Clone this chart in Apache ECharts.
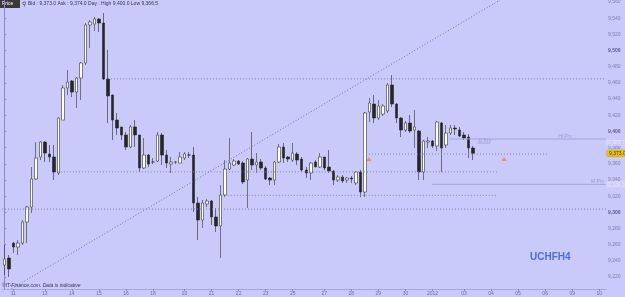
<!DOCTYPE html>
<html><head><meta charset="utf-8">
<script src="https://cdn.jsdelivr.net/npm/echarts@6/dist/echarts.min.js"></script>
<style>html,body{margin:0;padding:0;background:#cacafa}#c{width:625px;height:297px}</style>
</head><body><div id="c"></div>
<script>
const slotCount = 134;
const dayLabels = ['11','13','14','15','16','18','20','21','22','23','25','27','28','29','30','2012','03','04','05','06','09','10'];
const dayLabelSlots = [2,9,15,21,27,33,40,46,52,58,64,71,77,83,89,95,102,108,114,120,126,132];
const priceTicks = [9220,9240,9260,9280,9300,9320,9340,9360,9380,9400,9420,9440,9460,9480,9500,9520,9540,9560];

const opens = [9234.8,9243.5,9262.0,9257.1,9262.0,9288.0,9306.5,9341.2,9368.4,9386.9,9372.1,9368.4,9348.6,9414.1,9453.7,9462.3,9448.7,9466.0,9484.6,9531.6,9532.8,9539.0,9534.0,9464.8,9445.0,9414.1,9405.5,9395.6,9380.7,9405.5,9395.6,9354.8,9370.8,9362.2,9363.4,9395.6,9370.8,9359.7,9362.2,9360.9,9367.1,9370.8,9370.8,9311.5,9290.5,9310.3,9314.0,9294.2,9283.1,9321.4,9353.5,9358.5,9363.4,9360.9,9339.9,9365.9,9358.5,9362.2,9354.8,9342.4,9339.9,9362.2,9380.7,9368.4,9364.6,9372.1,9365.9,9352.3,9348.6,9362.2,9356.0,9368.4,9356.0,9351.0,9339.9,9343.6,9339.9,9342.4,9336.2,9349.8,9325.1,9424.0,9433.9,9416.6,9421.5,9425.2,9457.4,9433.9,9416.6,9401.7,9410.4,9401.7,9400.5,9349.8,9386.9,9388.2,9382.0,9410.4,9383.2,9398.0,9404.2,9401.7,9395.6,9393.1,9379.5];
const closes = [9242.2,9229.9,9257.1,9262.0,9288.0,9306.5,9341.2,9367.1,9386.9,9373.3,9368.4,9349.8,9416.6,9453.7,9461.1,9448.7,9466.0,9484.6,9531.6,9535.3,9539.0,9534.0,9464.8,9443.8,9414.1,9404.2,9395.6,9380.7,9405.5,9395.6,9354.8,9370.8,9359.7,9362.2,9395.6,9370.8,9360.9,9362.2,9362.2,9368.4,9372.1,9370.8,9311.5,9290.5,9311.5,9314.0,9294.2,9283.1,9321.4,9353.5,9360.9,9363.4,9359.7,9337.5,9365.9,9358.5,9362.2,9354.8,9341.2,9339.9,9362.2,9380.7,9367.1,9365.9,9373.3,9364.6,9352.3,9348.6,9360.9,9356.0,9368.4,9354.8,9351.0,9339.9,9343.6,9338.7,9342.4,9341.2,9349.8,9325.1,9422.8,9435.1,9416.6,9431.4,9431.4,9457.4,9433.9,9416.6,9401.7,9410.4,9400.5,9405.5,9349.8,9388.2,9388.2,9382.0,9411.6,9379.5,9398.0,9404.2,9403.0,9394.3,9391.9,9379.5,9373.0];
const lows = [9222.5,9220.0,9249.7,9247.2,9259.6,9262.0,9299.1,9339.9,9364.6,9362.2,9362.2,9339.9,9346.1,9414.1,9445.0,9442.5,9428.9,9438.8,9482.1,9503.1,9524.1,9522.9,9463.6,9410.4,9389.4,9395.6,9389.4,9377.0,9379.5,9380.7,9349.8,9353.5,9356.0,9359.7,9362.2,9358.5,9354.8,9348.6,9359.7,9360.9,9364.6,9367.1,9300.4,9265.8,9280.6,9306.5,9284.3,9275.6,9243.5,9318.9,9352.3,9357.2,9358.5,9335.0,9305.3,9352.3,9348.6,9352.3,9339.9,9333.7,9333.7,9360.9,9360.9,9362.2,9362.2,9358.5,9349.8,9342.4,9339.9,9356.0,9354.8,9352.3,9348.6,9333.7,9337.5,9336.2,9336.2,9336.2,9333.7,9318.9,9318.9,9411.6,9410.4,9414.1,9419.1,9422.8,9430.2,9410.4,9393.1,9399.3,9398.0,9379.5,9339.9,9339.9,9379.5,9379.5,9375.8,9349.8,9379.5,9395.6,9395.6,9393.1,9389.4,9367.1,9364.6];
const highs = [9259.6,9247.2,9263.3,9265.8,9290.5,9308.0,9356.0,9386.9,9388.0,9388.0,9383.2,9383.2,9417.5,9457.4,9475.9,9463.6,9467.3,9485.8,9534.0,9537.7,9541.5,9540.2,9546.4,9500.7,9445.5,9422.8,9405.5,9399.3,9407.9,9414.1,9395.6,9391.9,9372.1,9367.1,9399.3,9398.0,9377.0,9368.4,9363.4,9374.5,9374.5,9374.5,9380.7,9318.9,9315.2,9316.4,9315.2,9305.3,9333.7,9364.6,9391.9,9365.9,9364.6,9363.4,9367.1,9399.3,9373.3,9365.9,9357.2,9343.6,9363.4,9384.4,9385.7,9369.6,9385.7,9374.5,9368.4,9356.0,9362.2,9364.6,9373.3,9368.4,9377.0,9352.3,9346.1,9346.1,9343.6,9344.9,9351.0,9352.3,9424.0,9441.3,9445.0,9438.8,9433.9,9459.9,9469.7,9435.1,9417.8,9412.9,9420.3,9426.5,9401.7,9389.4,9393.1,9389.4,9412.9,9411.6,9407.9,9407.9,9407.9,9405.5,9399.3,9396.8,9382.0];

// dotted reference levels: price, first slot, last slot
const dotPrices = [9465, 9350, 9304, 9372, 9321];
const dotFrom   = [23.0, 11.9, -0.5, 79.6, 49.6];
const dotTo     = [133.5, 109.5, 133.5, 120.6, 109.5];
// solid "previous" levels
const prvNames  = ['Hi Prv', 'D Prv', 'M Prv'];
const prvPrices = [9390.6, 9385.7, 9334.6];
const prvFrom   = [98.9, 105.0, 94.9];
const prvTo     = [133.5, 107.8, 133.5];
const prvLabelSlots = [124.4, 106.6, 131.6];
// trend line end points [slot, price]
const trendLine = [[1.6, 9205.5], [110.0, 9562.5]];
// alert markers [slot, price]
const alerts = [[80.9, 9366], [110.9, 9366]];
const lastPrice = 9373.0;
const yMin = 9205.2, yMax = 9562.5;

const cats = Array.from({length: slotCount}, () => '');
dayLabelSlots.forEach((s, i) => { cats[s] = dayLabels[i]; });
const candles = opens.map((o, i) => [o, closes[i], lows[i], highs[i]]);
const fmt = v => { const s = Math.round(v).toString(); return s.replace(/\B(?=(\d{3})+(?!\d))/g, ','); };
const fmt1 = v => { const s = v.toFixed(1); const [a, b] = s.split('.'); return a.replace(/\B(?=(\d{3})+(?!\d))/g, ',') + '.' + b; };
const FONT = 'Liberation Sans';

const chart = echarts.init(document.getElementById('c'), null, {renderer: 'canvas'});
const lineSeries = [];
dotPrices.forEach((p, i) => lineSeries.push({
  type: 'line', xAxisIndex: 1, yAxisIndex: 0, symbol: 'none', silent: true,
  data: [[dotFrom[i], p], [dotTo[i], p]],
  lineStyle: {color: '#8080b8', width: 1, type: [1, 2]}
}));
prvPrices.forEach((p, i) => lineSeries.push({
  type: 'line', xAxisIndex: 1, yAxisIndex: 0, symbol: 'none', silent: true,
  data: [[prvFrom[i], p], [prvTo[i], p]],
  lineStyle: {color: '#a4a4d4', width: 1}
}));
lineSeries.push({
  type: 'scatter', xAxisIndex: 1, yAxisIndex: 0, silent: true, symbolSize: 0,
  data: prvPrices.map((p, i) => ({value: [prvLabelSlots[i], p], name: prvNames[i]})),
  label: {show: true, position: 'top', distance: 0, formatter: d => d.name, fontSize: 5, color: '#9090c4', fontFamily: FONT}
});
lineSeries.push({
  type: 'line', xAxisIndex: 1, yAxisIndex: 0, symbol: 'none', silent: true,
  data: trendLine, lineStyle: {color: '#7070a8', width: 1, type: [1, 2]}
});
lineSeries.push({
  type: 'scatter', xAxisIndex: 1, yAxisIndex: 0, silent: true,
  data: alerts, symbol: 'triangle', symbolSize: [5, 4], itemStyle: {color: '#e8804a'}
});

chart.setOption({
  backgroundColor: '#cacafa',
  animation: false,
  grid: {left: 2, right: 19, top: 0, bottom: 8, outerBoundsMode: 'none', containLabel: false},
  xAxis: [{
    type: 'category', data: cats, boundaryGap: true,
    axisLine: {show: true, lineStyle: {color: '#a8a8d8'}},
    axisTick: {show: true, length: 2, alignWithLabel: true, interval: (i, v) => v !== '', lineStyle: {color: '#8888bb'}},
    axisLabel: {interval: (i, v) => v !== '', fontSize: 5, color: '#6a6aa0', margin: 2, fontFamily: FONT},
    splitLine: {show: false}
  }, {
    type: 'value', min: -0.5, max: slotCount - 0.5, show: false
  }],
  yAxis: [{
    type: 'value', position: 'right', min: yMin, max: yMax,
    axisLine: {show: true, lineStyle: {color: '#8a8ac0'}},
    axisTick: {show: true, length: 2, customValues: priceTicks, lineStyle: {color: '#8a8ac0'}},
    axisLabel: {customValues: priceTicks, fontSize: 5, color: '#7c7cb0', margin: 2, fontFamily: FONT,
      formatter: v => (Math.round(v) % 100 === 0 ? '{b|' + fmt(v) + '}' : fmt(v)),
      rich: {b: {fontSize: 5, color: '#5a5a98', fontWeight: 'bold', fontFamily: FONT}}},
    splitLine: {show: false}
  }, {
    type: 'value', position: 'right', min: yMin, max: yMax,
    axisLine: {show: false}, axisTick: {show: false}, splitLine: {show: false},
    axisLabel: {customValues: prvPrices, margin: 1, fontSize: 5, fontFamily: FONT,
      formatter: v => '{p|' + fmt1(v) + '}',
      rich: {p: {color: '#e6e6ff', fontSize: 5, padding: [0, 1, 0, 1], borderColor: '#eeeeff', borderWidth: 0.5, fontFamily: FONT}}}
  }, {
    type: 'value', position: 'right', min: yMin, max: yMax,
    axisLine: {show: false}, axisTick: {show: false}, splitLine: {show: false},
    axisLabel: {customValues: [lastPrice], margin: 1, fontSize: 5, fontFamily: FONT,
      formatter: v => '{c|' + fmt1(v) + '}',
      rich: {c: {backgroundColor: '#f2c200', color: '#333', fontSize: 5, padding: [1, 2, 0, 2], borderRadius: 1, borderColor: '#c89a00', borderWidth: 0.5, fontFamily: FONT}}}
  }],
  series: [{
    type: 'candlestick', xAxisIndex: 0, yAxisIndex: 0, data: candles, barWidth: 3,
    itemStyle: {color: '#ffffff', color0: '#262626', borderColor: '#333333', borderColor0: '#262626', borderWidth: 0.6}
  }].concat(lineSeries),
  graphic: [
    {type: 'rect', left: 0, top: 0, shape: {width: 20, height: 8}, style: {fill: '#3a3a3a'}},
    {type: 'text', left: 2, top: 1.5, style: {text: 'Price', fontSize: 5, fill: '#ffffff', fontFamily: FONT}},
    {type: 'text', left: 22, top: 1, style: {text: '⚲', fontSize: 6, fill: '#333', fontFamily: 'DejaVu Sans'}},
    {type: 'text', left: 28, top: 1.5, style: {text: 'Bid : 9,373.0 Ask : 9,374.0 Day : High 9,400.0 Low 9,366.5', fontSize: 5, fill: '#333355', fontFamily: FONT}},
    {type: 'text', left: 2, top: 283, style: {text: '©IT-Finance.com. Data is indicative', fontSize: 5, fontStyle: 'italic', fill: '#333355', fontFamily: FONT}},
    {type: 'text', left: 530, top: 252, style: {text: 'UCHFH4', fontSize: 10, fontWeight: 'bold', fill: '#4a70d8', fontFamily: FONT}}
  ]
});
</script></body></html>
